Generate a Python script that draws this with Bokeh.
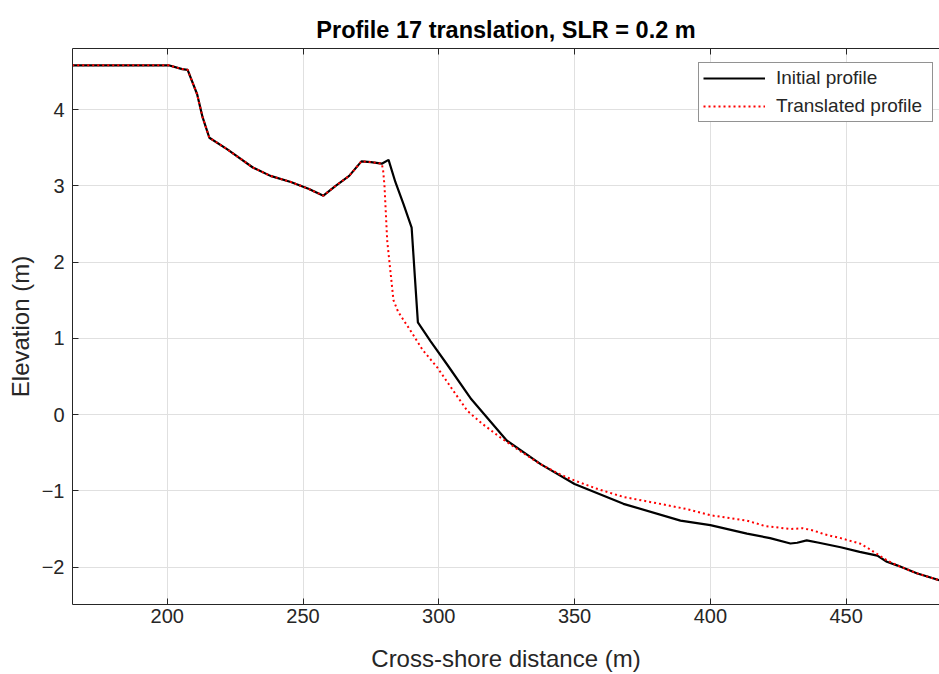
from bokeh.plotting import figure
from bokeh.models import Range1d, FixedTicker, LinearAxis, Legend, LegendItem
from bokeh.embed import file_html
from bokeh.resources import INLINE

# ---- data ----
initial_x = [165, 200.5, 205.5, 207.5, 211, 213, 215.5, 222, 231.5, 238, 245.5, 252,
             257.5, 262, 267, 271.5, 275, 279, 281.5, 284, 287, 290, 291.2, 292.3,
             297, 303, 312, 325, 337.5, 350, 368, 389, 400, 413.5, 422, 429.5, 432,
             435.5, 440, 448, 455, 461.5, 465, 469, 476, 485]
initial_y = [4.58, 4.58, 4.53, 4.52, 4.2, 3.9, 3.63, 3.48, 3.24, 3.13, 3.05, 2.96,
             2.87, 3.0, 3.13, 3.32, 3.31, 3.29, 3.34, 3.05, 2.76, 2.45, 1.8, 1.21,
             0.96, 0.66, 0.2, -0.34, -0.65, -0.91, -1.17, -1.39, -1.45, -1.56, -1.62,
             -1.69, -1.68, -1.65, -1.68, -1.74, -1.8, -1.85, -1.93, -1.98, -2.08, -2.18]

translated_x = [165, 200.5, 205.5, 207.5, 211, 213, 215.5, 222, 231.5, 238, 245.5, 252,
                257.5, 262, 267, 271.5, 275, 279, 279.5, 280, 281, 283.3, 285, 287,
                289.6, 294, 299.4, 305, 310.5, 316, 322.7, 330, 337.4, 345, 349.7, 358,
                368, 380, 391.5, 400, 413.5, 420, 429.5, 434, 438, 442, 448, 455, 458,
                461.5, 465, 469, 476, 485]
translated_y = [4.58, 4.58, 4.53, 4.52, 4.2, 3.9, 3.63, 3.48, 3.24, 3.13, 3.05, 2.96,
                2.87, 3.0, 3.13, 3.32, 3.31, 3.29, 3.2, 3.0, 2.28, 1.5, 1.35, 1.24,
                1.1, 0.85, 0.62, 0.33, 0.05, -0.12, -0.3, -0.48, -0.65, -0.79, -0.86,
                -0.97, -1.08, -1.16, -1.24, -1.32, -1.39, -1.46, -1.5, -1.49, -1.52,
                -1.57, -1.62, -1.69, -1.75, -1.83, -1.91, -1.98, -2.08, -2.18]

x_ticks = [200, 250, 300, 350, 400, 450]
y_ticks = [-2, -1, 0, 1, 2, 3, 4]

title_text = "Profile 17 translation, SLR = 0.2 m"
x_label = "Cross-shore distance (m)"
y_label = "Elevation (m)"
series_labels = ["Initial profile", "Translated profile"]

FONT = "Liberation Sans"
AX = "#262626"

p = figure(width=939, height=674, output_backend="svg", toolbar_location=None,
           x_range=Range1d(165.1, 484.4), y_range=Range1d(-2.49, 4.8),
           min_border_left=72, min_border_right=0, min_border_top=48,
           min_border_bottom=69)
p.outline_line_color = None
p.background_fill_color = "white"
p.border_fill_color = "white"

p.title.text = title_text
p.title.align = "center"
p.title.text_font = FONT
p.title.text_font_size = "23.5px"
p.title.text_font_style = "bold"
p.title.text_color = "black"
p.title.standoff = 12

for ax, lab in ((p.xaxis[0], x_label), (p.yaxis[0], y_label)):
    ax.axis_label = lab
    ax.axis_label_text_font = FONT
    ax.axis_label_text_font_size = "24px"
    ax.axis_label_text_font_style = "normal"
    ax.axis_label_text_color = AX
    ax.major_label_text_font = FONT
    ax.major_label_text_font_size = "20px"
    ax.major_label_text_color = AX
    ax.axis_line_color = AX
    ax.axis_line_width = 1
    ax.major_tick_line_color = AX
    ax.major_tick_in = 6
    ax.major_tick_out = 0
    ax.minor_tick_line_color = None

p.xaxis[0].ticker = FixedTicker(ticks=x_ticks)
p.yaxis[0].ticker = FixedTicker(ticks=y_ticks)
p.xaxis[0].major_label_standoff = 4
p.yaxis[0].major_label_standoff = 8
p.xaxis[0].axis_label_standoff = 19
p.yaxis[0].axis_label_standoff = 5

top = LinearAxis(ticker=FixedTicker(ticks=x_ticks), major_label_text_font_size="1px",
                 major_label_text_color=None,
                 major_tick_in=6, major_tick_out=0, minor_tick_line_color=None,
                 axis_line_color=AX, major_tick_line_color=AX,
                 major_label_standoff=0)
p.add_layout(top, "above")

p.xgrid.ticker = FixedTicker(ticks=x_ticks)
p.ygrid.ticker = FixedTicker(ticks=y_ticks)
p.grid.grid_line_color = "#e0e0e0"
p.grid.grid_line_width = 1

r1 = p.line(initial_x, initial_y, line_color="black", line_width=2.2)
r2 = p.line(translated_x, translated_y, line_color="#ff0000", line_width=2,
            line_dash="2 3")

legend = Legend(items=[LegendItem(label=series_labels[0], renderers=[r1]),
                       LegendItem(label=series_labels[1], renderers=[r2])],
                location=(626, 482), glyph_width=62, glyph_height=22,
                label_text_font=FONT, label_text_font_size="19px",
                label_text_color=AX, label_standoff=11, label_width=152,
                padding=4, spacing=6,
                margin=0, border_line_color=AX, border_line_width=1,
                background_fill_color="white", background_fill_alpha=1)
p.add_layout(legend, "center")

open("out.html", "w").write(file_html(p, INLINE))
